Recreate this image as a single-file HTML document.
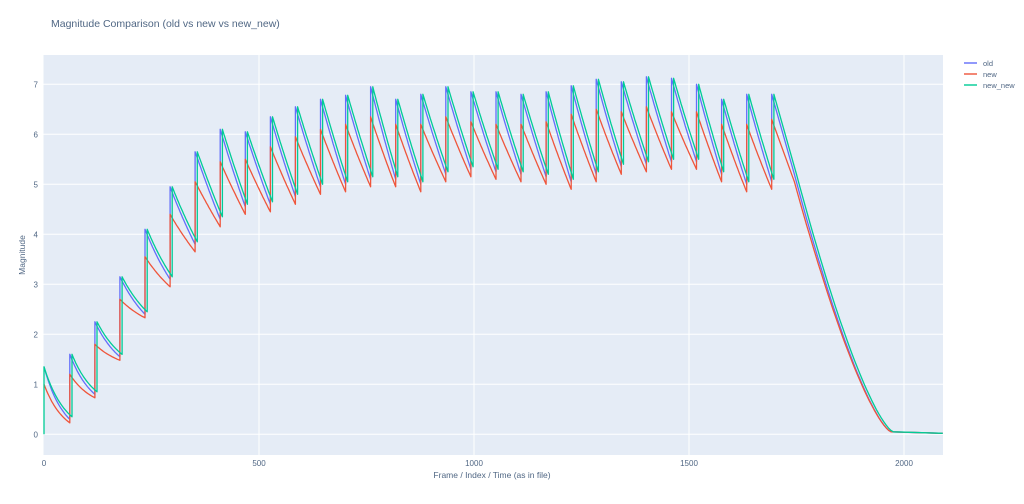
<!DOCTYPE html>
<html><head><meta charset="utf-8"><style>
body{margin:0;background:#fff;width:1024px;height:499px;overflow:hidden;font-family:"Liberation Sans",sans-serif}
</style></head><body>
<svg id="s" width="1024" height="499" xmlns="http://www.w3.org/2000/svg" style="font-family:'Liberation Sans',sans-serif">
<rect x="43.5" y="55" width="899.5" height="400" fill="#e5ecf6"/>
<g id="grid" stroke="#fff" stroke-width="1"></g>
<g id="lines" fill="none" stroke-width="1.3" stroke-linejoin="round"></g>
<g id="labels" fill="#506784" font-size="8"></g>
<text x="51" y="27" font-size="10.5" fill="#506784">Magnitude Comparison (old vs new vs new_new)</text>
<text x="492" y="478" font-size="8.5" fill="#506784" text-anchor="middle">Frame / Index / Time (as in file)</text>
<text transform="translate(25,255) rotate(-90)" font-size="8.5" fill="#506784" text-anchor="middle">Magnitude</text>
<g font-size="7.5" fill="#506784">
<line x1="964" y1="63" x2="977" y2="63" stroke="#636efa" stroke-width="2" opacity="0.7"/><text x="983" y="66">old</text>
<line x1="964" y1="74" x2="977" y2="74" stroke="#EF553B" stroke-width="2" opacity="0.7"/><text x="983" y="77">new</text>
<line x1="964" y1="85" x2="977" y2="85" stroke="#00cc96" stroke-width="2" opacity="0.7"/><text x="983" y="88">new_new</text>
</g>
</svg>
<script>
const X=t=>44+t*0.43, Y=v=>434.3-v*50;
const ns="http://www.w3.org/2000/svg";
function el(p,tag,a,txt){const e=document.createElementNS(ns,tag);for(const k in a)e.setAttribute(k,a[k]);if(txt!=null)e.textContent=txt;document.getElementById(p).appendChild(e);}
for(let v=0;v<=7;v++){el('grid','line',{x1:43.5,x2:943,y1:Y(v),y2:Y(v)});el('labels','text',{x:38,y:Y(v)+3,'text-anchor':'end'},v);}
for(let t=0;t<=2000;t+=500){if(t>0)el('grid','line',{x1:X(t),x2:X(t),y1:55,y2:455});el('labels','text',{x:X(t),y:466,'text-anchor':'middle'},t);}
const P=[1.35,1.6,2.25,3.15,4.1,4.95,5.65,6.1,6.05,6.35,6.55,6.7,6.78,6.95,6.7,6.8,6.95,6.85,6.85,6.8,6.85,6.97,7.1,7.05,7.15,7.12,7.0,6.7,6.8,6.8];
const M=[0.3,0.8,1.55,2.4,3.1,3.8,4.3,4.55,4.6,4.75,4.95,5.0,5.1,5.1,5.0,5.2,5.3,5.25,5.2,5.15,5.05,5.2,5.35,5.4,5.45,5.45,5.2,5.0,5.05];
const PR=[1.0,1.2,1.8,2.7,3.55,4.4,5.05,5.45,5.5,5.75,5.95,6.1,6.2,6.35,6.2,6.2,6.35,6.25,6.2,6.2,6.25,6.4,6.5,6.45,6.55,6.45,6.45,6.2,6.2,6.3];
const MR=M.map((m,i)=>m-(i<4?0.07:0.15));
function series(Pk,Mk,off,startZero,endV){
  const T=k=>k==0?0:60+58.3*(k-1)+off;
  let d=[];
  if(startZero)d.push([0,0]);
  for(let k=0;k<Pk.length-1;k++){
    const a=Math.max(0.15,1.3-0.2*k);
    const f=s=>(Math.exp(-a*s)-Math.exp(-a))/(1-Math.exp(-a));
    const t0=T(k),t1=T(k+1);
    for(let i=0;i<=20;i++){const s=i/20;d.push([t0+(t1-t0)*s,Mk[k]+(Pk[k]-Mk[k])*f(s)]);}
  }
  const tl=T(Pk.length-1),pl=Pk[Pk.length-1];
  d.push([tl,pl]);
  const te=1745+off;d.push([te,endV]);
  for(let i=1;i<=40;i++){const s=i/40;d.push([te+s*225,0.05+(endV-0.05)*Math.pow(1-s,1.4)]);}
  d.push([2090,0.02]);
  return d.map((p,i)=>(i?'L':'M')+X(p[0]).toFixed(1)+','+Y(p[1]).toFixed(1)).join('');
}
el('lines','path',{d:series(P,M,0,false,5.2),stroke:'#636efa'});
el('lines','path',{d:series(PR,MR,0,false,5.05),stroke:'#EF553B'});
el('lines','path',{d:series(P,M.map(m=>m+0.05),5,true,5.2),stroke:'#00cc96'});
</script>
</body></html>
